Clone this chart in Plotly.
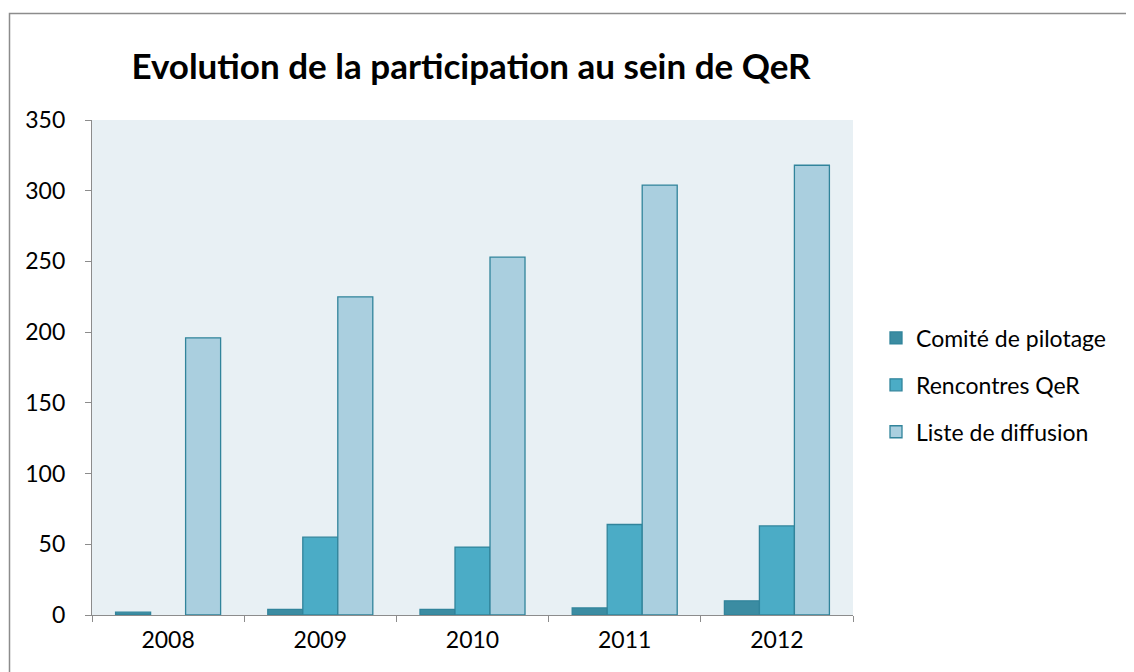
import plotly.graph_objects as go

years = ["2008", "2009", "2010", "2011", "2012"]
comite = [2, 4, 4, 5, 10]
rencontres = [None, 55, 48, 64, 63]
liste = [196, 225, 253, 304, 318]

series = [
    ("Comité de pilotage", comite, "#3B8CA2"),
    ("Rencontres QeR", rencontres, "#4BACC6"),
    ("Liste de diffusion", liste, "#AACFDF"),
]

FONT = "Lato"
fig = go.Figure()
for i, (name, vals, col) in enumerate(series):
    fig.add_trace(go.Bar(
        x=years, y=vals, name=name, legendgroup=f"g{i}",
        marker=dict(color=col, line=dict(color="#31849B", width=1.3)),
    ))

W, H = 1134, 672
OFF = 8  # page body margin
L, T = 92 - OFF, 120 - OFF
R = W - (853 - OFF)
B = H - (615 - OFF)
PW = W - L - R
PH = H - T - B

fig.update_layout(
    width=W, height=H,
    margin=dict(l=L, r=R, t=T, b=B),
    paper_bgcolor="white",
    plot_bgcolor="#E8F0F4",
    barmode="group",
    bargap=0.31,
    bargroupgap=0,
    font=dict(family=FONT, size=23, color="black"),
    title=dict(
        text="<b>Evolution de la participation au sein de QeR</b>",
        x=(471 - OFF) / W, xanchor="center",
        y=1 - (67 - OFF) / H, yanchor="middle",
        font=dict(family=FONT, size=35, color="black"),
    ),
    legend=dict(
        x=(876 - OFF - L) / PW, xanchor="left",
        y=1 - (385 - OFF - T) / PH, yanchor="middle",
        font=dict(family=FONT, size=23),
        traceorder="grouped",
        tracegroupgap=14,
        bgcolor="rgba(0,0,0,0)",
    ),
    showlegend=True,
)
fig.update_yaxes(
    range=[0, 350], dtick=50,
    showgrid=False, zeroline=False,
    showline=True, linecolor="#8C8C8C", linewidth=1.3,
    ticks="outside", ticklen=6, tickcolor="#8C8C8C",
    tickfont=dict(family=FONT, size=23),
    ticklabelstandoff=15,
)
fig.update_xaxes(
    showgrid=False,
    showline=True, linecolor="#8C8C8C", linewidth=1.3,
    ticks="outside", ticklen=6, tickcolor="#8C8C8C",
    tickson="boundaries",
    tickfont=dict(family=FONT, size=23),
    ticklabelstandoff=4,
)
# chart frame (only top and left edges fall inside the picture)
fig.add_shape(type="rect", xref="paper", yref="paper",
              x0=-(L - (9.5 - OFF)) / PW, x1=(W - L + 20) / PW,
              y0=-(B + 20) / PH, y1=1 + (T - (13.5 - OFF)) / PH,
              line=dict(color="#8C8C8C", width=1.5), layer="below")

fig.write_html("out.html")
